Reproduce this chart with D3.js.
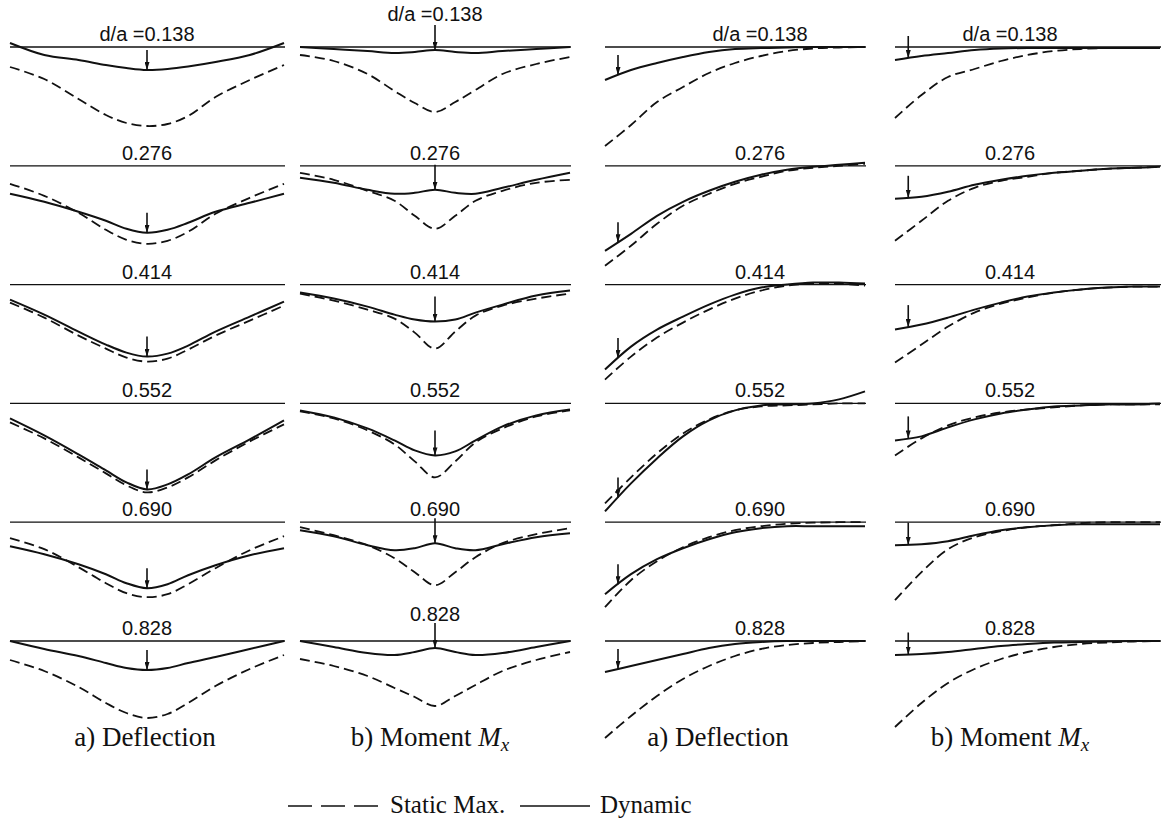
<!DOCTYPE html>
<html>
<head>
<meta charset="utf-8">
<script src="https://cdn.jsdelivr.net/npm/d3@7"></script>
<style>
  body { margin: 0; background: #fff; }
  .label { font-family: "Liberation Sans", Arial, sans-serif; font-size: 20px; fill: #111; }
  .caption { font-family: "Liberation Serif", "DejaVu Serif", serif; font-size: 27px; fill: #111; }
  .legend { font-family: "Liberation Serif", "DejaVu Serif", serif; font-size: 25px; fill: #111; }
</style>
</head>
<body>
<svg id="chart" width="1164" height="834"></svg>
<script>
// d/a ratios, one row each
const ratios = [0.138, 0.276, 0.414, 0.552, 0.690, 0.828];

// sample positions along the plate (center panels: -1..1, edge panels: 0..1)
const uCenter = [-1, -0.75, -0.5, -0.3, -0.15, 0, 0.15, 0.3, 0.5, 0.75, 1];
const uEdge = [0, 0.1, 0.2, 0.3, 0.4, 0.5, 0.6, 0.7, 0.8, 0.9, 1];

// load positions
const loadCenter = 0;
const loadEdge = 0.05;

// a) deflection, load at center (relative units)
const deflCenterDynamic = [
  [-4, 8, 13, 18, 21, 23, 22, 19.5, 15, 8, -4],
  [28, 36, 46, 55, 63, 67, 64, 57, 46, 37, 28],
  [15, 30, 47, 60, 68, 72, 69, 61, 47, 32, 17],
  [15, 32, 51, 67, 79, 86, 81, 71, 54, 36, 17],
  [24, 32, 42, 52, 61, 66, 62, 53, 43, 33, 26],
  [0, 8, 15, 22, 27, 29, 27, 22, 16, 8, 0]
];
const deflCenterStatic = [
  [20, 32, 52, 68, 76, 79, 77, 69, 50, 33, 18],
  [18, 30, 47, 64, 74, 78, 75, 66, 48, 32, 18],
  [18, 33, 51, 64, 73, 77, 74, 65, 51, 36, 21],
  [19, 35, 54, 70, 82, 89, 84, 74, 57, 38, 21],
  [16, 27, 45, 61, 71, 75, 72, 62, 46, 28, 14],
  [19, 30, 46, 62, 72, 77, 73, 62, 45, 28, 14]
];

// b) moment Mx, load at center
const momCenterDynamic = [
  [0, 2, 4, 6, 5, 3, 5, 6, 4, 2, 0],
  [12, 17, 24, 28, 27, 24, 27, 28, 22, 14, 7],
  [8, 14, 22, 30, 35, 37, 35, 28, 20, 11, 6],
  [7, 14, 25, 37, 47, 52, 48, 37, 23, 12, 6],
  [8, 14, 23, 28, 26, 21, 26, 28, 22, 15, 11],
  [0, 6, 12, 14, 11, 7, 11, 14, 12, 6, 0]
];
const momCenterStatic = [
  [8, 14, 27, 44, 56, 65, 55, 43, 27, 17, 10],
  [7, 14, 25, 35, 50, 63, 50, 35, 25, 17, 14],
  [9, 16, 25, 34, 48, 64, 47, 31, 21, 14, 9],
  [8, 15, 27, 41, 58, 74, 58, 39, 25, 13, 7],
  [5, 13, 23, 36, 50, 63, 50, 35, 21, 12, 6],
  [18, 25, 35, 47, 56, 65, 55, 44, 30, 19, 11]
];

// a) deflection, load near edge
const deflEdgeDynamic = [
  [33, 23, 16, 10, 5, 2, 1, 0.5, 0, 0, 0],
  [85, 68, 50, 36, 25, 16, 9, 4, 1, -1, -3],
  [85, 62, 45, 32, 20, 10, 3, 0, -2, -2, -1],
  [108, 80, 55, 33, 17, 7, 2, 1, 0, -4, -12],
  [72, 52, 37, 26, 17, 10, 6, 4, 4, 4, 4],
  [31, 25, 19, 13, 7, 3, 1, 0, 0, 0, 0]
];
const deflEdgeStatic = [
  [99, 78, 55, 40, 26, 16, 9, 4, 1.5, 0.5, 0],
  [100, 80, 58, 40, 28, 18, 11, 5, 2, 0, -2],
  [95, 72, 53, 38, 25, 14, 6, 1, -1, -1, 1],
  [100, 74, 50, 30, 16, 7, 3, 2, 1, 0, 0],
  [85, 58, 39, 25, 15, 8, 4, 1.5, 0.5, 0, 0],
  [97, 75, 55, 38, 25, 15, 8, 4, 2, 1, 0]
];

// b) moment Mx, load near edge
const momEdgeDynamic = [
  [13, 9, 6, 3, 1.5, 1, 1, 1, 1, 1, 1],
  [33, 31, 26, 19, 14, 10, 7, 5, 3, 2, 1],
  [45, 40, 33, 25, 18, 12, 8, 5, 3, 2, 2],
  [37, 33, 24, 16, 10, 6, 3, 2, 1, 1, 0],
  [23, 22, 19, 13, 8, 5, 3, 2, 2, 2, 2],
  [14, 13, 11, 8, 5, 3, 1.5, 1, 0.5, 0, 0]
];
const momEdgeStatic = [
  [71, 48, 30, 22, 14, 8, 4, 2, 1, 1, 1],
  [75, 55, 35, 22, 15, 11, 7, 5, 3, 2, 1],
  [78, 60, 42, 28, 19, 13, 8, 5, 3, 2, 2],
  [52, 35, 22, 14, 9, 6, 4, 2, 1, 1, 1],
  [78, 50, 27, 15, 9, 5, 3, 1, 0, 0, 0],
  [86, 62, 42, 28, 18, 11, 6, 3, 1.5, 0.5, 0]
];

const captions = ["a) Deflection", "b) Moment ", "a) Deflection", "b) Moment "];

const panels = [
  { dyn: deflCenterDynamic, sta: deflCenterStatic, u: uCenter, dom: [-1, 1], range: [10, 284], labelX: 147, load: loadCenter, arrowLen: 20, capX: 145, moment: false },
  { dyn: momCenterDynamic, sta: momCenterStatic, u: uCenter, dom: [-1, 1], range: [300, 570], labelX: 435, load: loadCenter, arrowLen: 25, capX: 430, moment: true, lift: { 0: 20, 5: 14 } },
  { dyn: deflEdgeDynamic, sta: deflEdgeStatic, u: uEdge, dom: [0, 1], range: [605, 865], labelX: 760, load: loadEdge, arrowLen: 20, capX: 718, moment: false },
  { dyn: momEdgeDynamic, sta: momEdgeStatic, u: uEdge, dom: [0, 1], range: [895, 1160], labelX: 1010, load: loadEdge, arrowLen: 22, capX: 1010, moment: true }
];

const svg = d3.select("#chart");
svg.append("rect").attr("width", 1164).attr("height", 834).attr("fill", "#fff");

svg.append("defs").append("marker")
  .attr("id", "head")
  .attr("viewBox", "0 0 10 10")
  .attr("refX", 10).attr("refY", 5)
  .attr("markerUnits", "userSpaceOnUse")
  .attr("markerWidth", 8).attr("markerHeight", 5)
  .attr("preserveAspectRatio", "none")
  .attr("orient", "auto")
  .append("path").attr("d", "M0,0 L10,5 L0,10 z").attr("fill", "#111");

const rowY = d3.scalePoint().domain(ratios).range([47, 641]);
const fmt = d3.format(".3f");

panels.forEach((p, c) => {
  const x = d3.scaleLinear().domain(p.dom).range(p.range);

  ratios.forEach((r, i) => {
    const y0 = rowY(r);
    const y = d3.scaleLinear().domain([0, 100]).range([y0, y0 + 100]);
    const g = svg.append("g");

    // reference line (undeformed plate)
    g.append("line")
      .attr("x1", p.range[0]).attr("x2", p.range[1] + 1)
      .attr("y1", y0).attr("y2", y0)
      .attr("stroke", "#111").attr("stroke-width", 1.3);

    const line = d3.line()
      .x((d, j) => x(p.u[j]))
      .y(d => y(d))
      .curve(d3.curveCatmullRom.alpha(0.5));

    g.append("path").datum(p.sta[i])
      .attr("d", line)
      .attr("fill", "none").attr("stroke", "#111")
      .attr("stroke-width", 1.8).attr("stroke-dasharray", "10,5");

    g.append("path").datum(p.dyn[i])
      .attr("d", line)
      .attr("fill", "none").attr("stroke", "#111")
      .attr("stroke-width", 2);

    // load arrow, ends on the dynamic curve
    const atLoad = d3.scaleLinear().domain(p.u).range(p.dyn[i])(p.load);
    const ax = x(p.load);
    g.append("line")
      .attr("x1", ax).attr("x2", ax)
      .attr("y1", y(atLoad) - p.arrowLen).attr("y2", y(atLoad))
      .attr("stroke", "#111").attr("stroke-width", 1.6)
      .attr("marker-end", "url(#head)");

    const lift = (p.lift && p.lift[i]) || 0;
    g.append("text").attr("class", "label")
      .attr("x", p.labelX).attr("y", y0 - 6 - lift)
      .attr("text-anchor", "middle")
      .text(i === 0 ? "d/a =" + fmt(r) : fmt(r));
  });

  // column caption
  const cap = svg.append("text").attr("class", "caption")
    .attr("x", p.capX).attr("y", 746)
    .attr("text-anchor", "middle")
    .text(captions[c]);
  if (p.moment) {
    cap.append("tspan").attr("font-style", "italic").text("M");
    cap.append("tspan").attr("font-style", "italic").attr("font-size", 19).attr("dy", 5).text("x");
  }
});

// legend
const legend = svg.append("g");
legend.append("line")
  .attr("x1", 288).attr("x2", 380).attr("y1", 806).attr("y2", 806)
  .attr("stroke", "#111").attr("stroke-width", 1.4).attr("stroke-dasharray", "24,9");
legend.append("text").attr("class", "legend")
  .attr("x", 390).attr("y", 813).text("Static Max.");
legend.append("line")
  .attr("x1", 520).attr("x2", 590).attr("y1", 806).attr("y2", 806)
  .attr("stroke", "#111").attr("stroke-width", 1.4);
legend.append("text").attr("class", "legend")
  .attr("x", 600).attr("y", 813).text("Dynamic");
</script>
</body>
</html>
